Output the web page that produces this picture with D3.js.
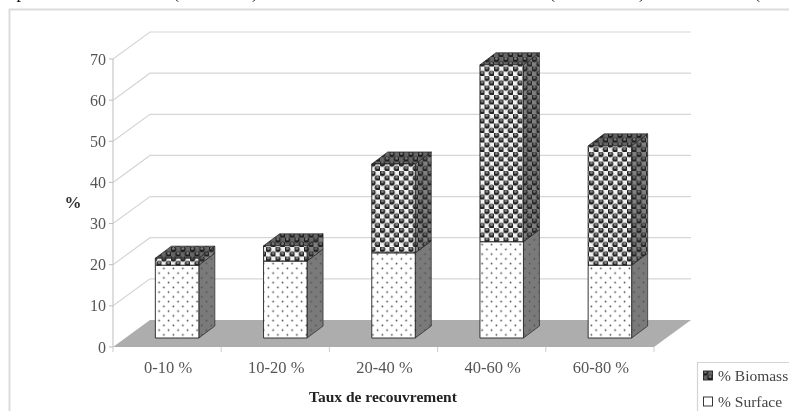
<!DOCTYPE html>
<html><head><meta charset="utf-8">
<style>html,body{margin:0;padding:0;background:#fff}svg{display:block}text{font-family:"Liberation Serif",serif}</style>
<script src="https://cdnjs.cloudflare.com/ajax/libs/d3/7.8.5/d3.min.js"></script>
</head><body><div id="c"></div>
<script>
const categories = ["0-10 %","10-20 %","20-40 %","40-60 %","60-80 %"];
const surface = [17.7,18.7,20.7,23.4,17.7];
const biomass = [1.7,3.7,21.6,43.0,29.0];
const yTicks = [0,10,20,30,40,50,60,70];
const legendLabels = ["% Biomass","% Surface"];
const xTitle = "Taux de recouvrement";
const yTitle = "%";
const cutText = [["p",21],["(",176],[")",255],["(",552],[")",642],["(",757]];

const W=789,H=411;
const svg=d3.select("#c").append("svg").attr("width",W).attr("height",H);
const defs=svg.append("defs");
defs.append("filter").attr("id","soft").append("feGaussianBlur").attr("stdDeviation",0.55);

function dots(id,bg,dot,size){
  const p=defs.append("pattern").attr("id",id).attr("patternUnits","userSpaceOnUse").attr("width",size).attr("height",size);
  p.append("rect").attr("width",size).attr("height",size).attr("fill",bg);
  [[size/4,size/4],[size*3/4,size*3/4]].forEach(c=>p.append("circle").attr("cx",c[0]).attr("cy",c[1]).attr("r",0.85).attr("fill",dot));
}
dots("dotFront","#fff","#444",9.5);
dots("dotSide","#7a7a7a","#505050",9.5);
function balls(id,bg,ball,hi,size){
  const p=defs.append("pattern").attr("id",id).attr("patternUnits","userSpaceOnUse").attr("width",size).attr("height",size);
  p.append("rect").attr("width",size).attr("height",size).attr("fill",bg);
  [[size/4,size/4],[size*3/4,size*3/4]].forEach(c=>{
    p.append("circle").attr("cx",c[0]).attr("cy",c[1]).attr("r",size*0.3).attr("fill",ball);
    p.append("circle").attr("cx",c[0]).attr("cy",c[1]-size*0.09).attr("r",size*0.15).attr("fill",hi);
  });
}
balls("ballFront","#f2f2f2","#222","#858585",9.5);
balls("ballSide","#808080","#252525","#6a6a6a",9.5);
balls("ballTop","#666","#1e1e1e","#808080",9.5);

const g=svg.append("g").attr("filter","url(#soft)");

// cut-off line of surrounding text
g.append("g").selectAll("text").data(cutText).join("text")
 .attr("x",d=>d[1]).attr("y",-2).attr("text-anchor","middle").attr("font-size",18).attr("fill","#111").text(d=>d[0]);

// frame
g.append("path").attr("d",`M9.5,${H}V9.5H${W}`).attr("fill","none").attr("stroke","#dcdcdc").attr("stroke-width",2);

const x0=113,x1=654,dx=37,dy=-27;
const y=d3.scaleLinear().domain([0,70]).range([347,59]);
const x=d3.scaleBand().domain(categories).range([x0,x1]);
const bw=43.5,ddx=16,ddy=-12,baseLift=y(0)-338,depthShift=10;

// floor
g.append("path").attr("d",`M${x0},${y(0)}L${x0+dx},${y(0)+dy}H${x1+dx}L${x1},${y(0)}Z`).attr("fill","#adadad");

// grid lines
g.append("g").selectAll("path").data(yTicks.filter(d=>d>0)).join("path")
 .attr("d",d=>`M${x0},${y(d)}L${x0+dx},${y(d)+dy}H${x1+dx}`)
 .attr("fill","none").attr("stroke","#d6d6d6").attr("stroke-width",1.2);

// axes
g.append("path").attr("d",`M${x0},${y(70)}V${y(0)}`).attr("stroke","#d0d0d0").attr("stroke-width",1.4);
g.append("g").selectAll("path").data(yTicks).join("path")
 .attr("d",d=>`M${x0-4},${y(d)}H${x0}`).attr("stroke","#bbb");
g.append("g").selectAll("text").data(yTicks).join("text")
 .attr("x",x0-7).attr("y",d=>y(d)+5.5).attr("text-anchor","end").attr("font-size",16).attr("fill","#555").text(d=>d);
const tickXs=categories.map(c=>x(c)).concat([x1]);
g.append("g").selectAll("path").data(tickXs).join("path")
 .attr("d",d=>`M${d},${y(0)}v5`).attr("stroke","#ccc");
g.append("g").selectAll("text").data(categories).join("text")
 .attr("x",d=>x(d)+x.bandwidth()/2+1).attr("y",373).attr("text-anchor","middle").attr("font-size",16.5).attr("fill","#555").text(d=>d);

g.append("text").attr("x",73).attr("y",208).attr("text-anchor","middle").attr("font-size",17).attr("font-weight","bold").attr("fill","#333").text(yTitle);
g.append("text").attr("x",383).attr("y",402).attr("text-anchor","middle").attr("font-size",15.5).attr("font-weight","bold").attr("fill","#222").text(xTitle);

// bars
const stroke="#222";
const bars=g.append("g").selectAll("g").data(categories.map((c,i)=>({c,s:surface[i],b:biomass[i]}))).join("g");
const left=d=>x(d.c)+x.bandwidth()/2-bw/2+depthShift;
const py=v=>y(v)-baseLift;
function box(sel,lo,hi,front,side,top){
  sel.append("path").attr("d",d=>{const a=left(d),T=py(hi(d)),B=py(lo(d));
    return `M${a+bw},${B}L${a+bw+ddx},${B+ddy}V${T+ddy}L${a+bw},${T}Z`;}).attr("fill",`url(#${side})`).attr("stroke",stroke).attr("stroke-width",.7);
  if(top) sel.append("path").attr("d",d=>{const a=left(d),T=py(hi(d));
    return `M${a},${T}L${a+ddx},${T+ddy}H${a+bw+ddx}L${a+bw},${T}Z`;}).attr("fill",`url(#${top})`).attr("stroke",stroke).attr("stroke-width",.7);
  sel.append("path").attr("d",d=>{const a=left(d),T=py(hi(d)),B=py(lo(d));
    return `M${a},${B}H${a+bw}V${T}H${a}Z`;}).attr("fill",`url(#${front})`).attr("stroke",stroke).attr("stroke-width",.9);
}
box(bars,d=>0,d=>d.s,"dotFront","dotSide",null);
box(bars,d=>d.s,d=>d.s+d.b,"ballFront","ballSide","ballTop");

// legend
const leg=g.append("g");
leg.append("path").attr("d",`M${W},362.5H697.5V${H}`).attr("fill","none").attr("stroke","#d4d4d4").attr("stroke-width",1.2);
const legFill=["url(#ballTop)","#fff"];
legendLabels.forEach((t,i)=>{
  const yy=i?397:371;
  leg.append("rect").attr("x",703.5).attr("y",yy).attr("width",9).attr("height",9).attr("fill",legFill[i]).attr("stroke","#222").attr("stroke-width",.9);
  leg.append("text").attr("x",718).attr("y",yy+10).attr("font-size",15.5).attr("fill","#444").text(t);
});
</script></body></html>
